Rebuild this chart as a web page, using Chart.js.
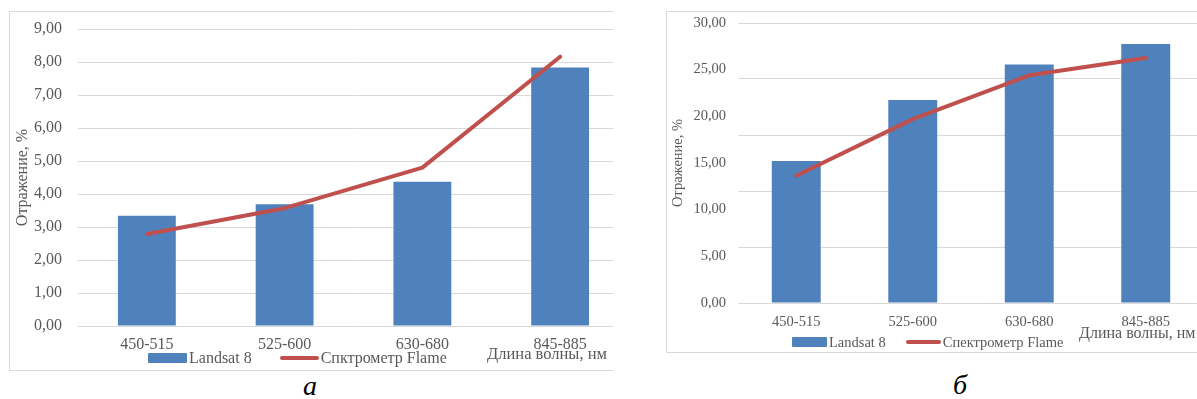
<!DOCTYPE html>
<html>
<head>
<meta charset="utf-8">
<script src="https://cdn.jsdelivr.net/npm/chart.js@4.4.1/dist/chart.umd.min.js"></script>
<style>
  body { margin: 0; width: 1197px; height: 399px; background: #fff; position: relative; overflow: hidden;
         font-family: "Liberation Serif", "Times New Roman", serif; color: #595959; }
  .frame { position: absolute; box-sizing: border-box; border: 1px solid #d9d9d9; border-right: none; overflow: hidden; }
  .frame canvas { position: absolute; left: 0; top: 0; }
  .legend { position: absolute; display: flex; align-items: center; white-space: nowrap; line-height: 1; }
  .legend i { display: inline-block; }
  .axis-name { position: absolute; white-space: nowrap; line-height: 1; }
  .cap { position: absolute; font-style: italic; color: #000; line-height: 1; transform: translate(-50%, -50%); }
</style>
</head>
<body>

<div class="frame" style="left:9px; top:11px; width:604px; height:360px;">
  <canvas id="chartA" width="619" height="358"></canvas>
</div>
<div class="frame" style="left:666px; top:11px; width:531px; height:342px;">
  <canvas id="chartB" width="537" height="340"></canvas>
</div>

<div id="legendA" class="legend" style="left:148px; top:350px; font-size:16px;"></div>
<div id="legendB" class="legend" style="left:792px; top:335px; font-size:14.5px;"></div>

<div class="axis-name" style="left:487px; top:346px; font-size:16.5px;">Длина волны, нм</div>
<div class="axis-name" style="left:1079px; top:325px; font-size:16px;">Длина волны, нм</div>

<div class="cap" style="left:310px; top:386px; font-size:28px;">а</div>
<div class="cap" style="left:960px; top:385px; font-size:28px;">б</div>

<script>
// spectral bands, nm
const bands = ["450-515", "525-600", "630-680", "845-885"];

// panel "а"
const seriesA = ["Landsat 8", "Спктрометр Flame"];
const landsatA = [3.34, 3.69, 4.37, 7.83];
const flameA = [2.79, 3.57, 4.80, 8.16];
const yMaxA = 9, yStepA = 1;

// panel "б" (labels every 5, grid lines every 6)
const seriesB = ["Landsat 8", "Спектрометр Flame"];
const landsatB = [15.21, 21.74, 25.55, 27.76];
const flameB = [13.64, 19.70, 24.40, 26.26];
const yMaxB = 30, yStepB = 5, gridStepB = 6;

const SERIF = "'Liberation Serif', 'Times New Roman', serif";
const GRAY = "#595959";
const GRID = "#d9d9d9";
const BLUE = "#4f81bd";
const RED = "#c0504d";

const fmt = v => v.toFixed(2).replace(".", ",");

function makeChart(id, o) {
  const scales = {
    x: {
      grid: { display: false },
      border: { display: false },
      ticks: { color: GRAY, font: { family: SERIF, size: o.tickSize }, padding: o.xPad, maxRotation: 0, autoSkip: false },
      afterFit: s => { s.height = o.xHeight; }
    },
    y: {
      min: 0, max: o.yMax,
      // invisible tick marks give the gap between labels and plot
      grid: { drawOnChartArea: !o.gridStep, color: GRID, tickColor: "transparent", tickLength: o.yGap },
      border: { display: false },
      ticks: { stepSize: o.yStep, color: GRAY, font: { family: SERIF, size: o.tickSize }, padding: 0, callback: fmt },
      title: { display: true, text: "Отражение, %", color: GRAY,
               font: { family: SERIF, size: o.titleSize }, padding: { top: o.titlePad, bottom: 0 } },
      afterFit: s => { s.width = o.yWidth; }
    }
  };
  if (o.gridStep) {
    scales.yGrid = {
      position: "right", min: 0, max: o.yMax,
      grid: { color: GRID, drawTicks: false },
      border: { display: false },
      ticks: { display: false, stepSize: o.gridStep },
      afterFit: s => { s.width = 0; }
    };
  }

  return new Chart(document.getElementById(id), {
    data: {
      labels: bands,
      datasets: [
        { type: "bar", label: o.names[0], data: o.bars, backgroundColor: BLUE,
          categoryPercentage: 1, barPercentage: 0.42, order: 2 },
        { type: "line", label: o.names[1], data: o.line, borderColor: RED, borderWidth: 4,
          pointRadius: 0, tension: 0, borderCapStyle: "round", borderJoinStyle: "round", order: 1 }
      ]
    },
    options: {
      responsive: false,
      animation: false,
      layout: { padding: { top: o.top, left: 0, right: 0, bottom: 0 } },
      plugins: { legend: { display: false }, tooltip: { enabled: false } },
      scales
    }
  });
}

function fillLegend(el, chart, box, gap) {
  chart.data.datasets.forEach((ds, i) => {
    const mark = document.createElement("i");
    if (ds.type === "bar") {
      mark.style.cssText = `width:${box}px;height:10px;background:${ds.backgroundColor};border-radius:1px;`;
    } else {
      mark.style.cssText = `width:${box}px;height:4px;background:${ds.borderColor};border-radius:2px;`;
    }
    const txt = document.createElement("span");
    txt.textContent = ds.label;
    txt.style.marginLeft = "2px";
    if (i === 0) txt.style.marginRight = gap + "px";
    el.appendChild(mark);
    el.appendChild(txt);
  });
}

const chartA = makeChart("chartA", {
  names: seriesA, bars: landsatA, line: flameA,
  yMax: yMaxA, yStep: yStepA,
  tickSize: 16, titleSize: 16, titlePad: 3,
  top: 17, yWidth: 68, xHeight: 44, yGap: 16, xPad: 1
});

const chartB = makeChart("chartB", {
  names: seriesB, bars: landsatB, line: flameB,
  yMax: yMaxB, yStep: yStepB, gridStep: gridStepB,
  tickSize: 14.5, titleSize: 14.5, titlePad: 2,
  top: 11, yWidth: 71, xHeight: 49, yGap: 12, xPad: 2
});

fillLegend(document.getElementById("legendA"), chartA, 39, 28);
fillLegend(document.getElementById("legendB"), chartB, 35, 20);
</script>
</body>
</html>
